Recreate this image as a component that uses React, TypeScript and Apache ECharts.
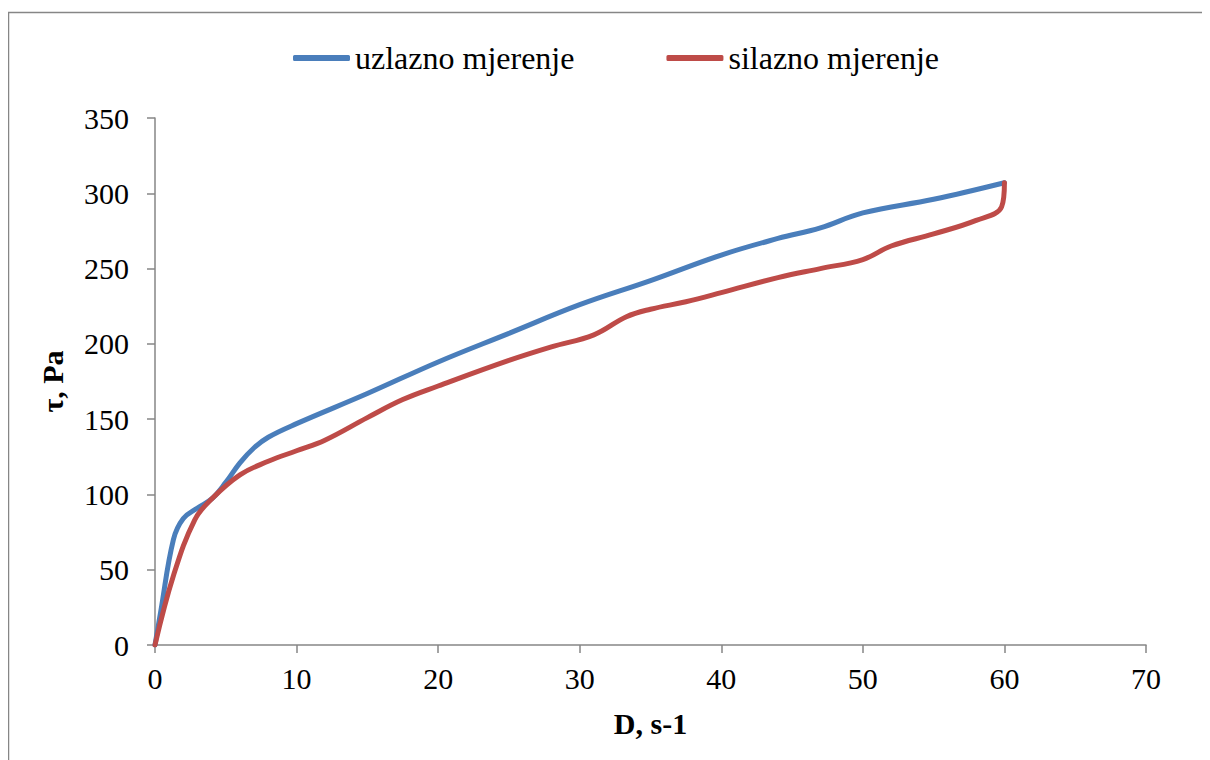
import React, { useEffect, useRef } from "react";
import * as echarts from "echarts";

const seriesNames = ["uzlazno mjerenje", "silazno mjerenje"];
const xTitle = "D, s-1";
const yTitle = "τ, Pa";

// uzlazno (ascending) measurement: [D, τ]
const upD = [0, 0.4, 1.3, 2, 3, 4, 5, 6, 7, 8, 10, 15, 20, 25, 30, 35, 40, 44, 47, 50, 55, 60];
const upTau = [0, 22, 70, 84, 91, 97, 108, 121, 131, 138, 147, 167, 188, 207, 226, 242, 259, 270, 277, 287, 296, 307];

// silazno (descending) measurement: [D, τ]
const downD = [60, 59.8, 58, 55, 52, 50, 47, 44, 40, 37.5, 35, 33.3, 31, 28, 25, 20, 17.5, 15, 12, 10, 8, 6, 4, 2.8, 1.3, 0];
const downTau = [307, 291, 282, 273, 265, 256, 250, 244, 234, 228, 223, 218, 206, 198, 189, 172, 163, 151, 136, 129, 122, 113, 97, 83, 46, 0];

const FONT = "Liberation Serif";
const AXIS_COLOR = "#868686";

export default function App() {
  const ref = useRef<HTMLDivElement>(null);

  useEffect(() => {
    document.documentElement.style.overflow = "hidden";
    document.body.style.overflow = "hidden";
    if (!ref.current) return;
    const chart = echarts.init(ref.current, undefined, { renderer: "svg" });
    const up = upD.map((d, i) => [d, upTau[i]]);
    const down = downD.map((d, i) => [d, downTau[i]]);
    chart.setOption({
      animation: false,
      backgroundColor: "#ffffff",
      textStyle: { fontFamily: FONT },
      graphic: [
        {
          type: "rect",
          shape: { x: 0.5, y: 4.5, width: 1220, height: 800 },
          style: { fill: "none", stroke: AXIS_COLOR, lineWidth: 1.5 },
          silent: true,
        },
      ],
      legend: {
        top: 29,
        left: 280,
        icon: "roundRect",
        itemWidth: 57,
        itemHeight: 6,
        itemGap: 92,
        textStyle: { fontFamily: FONT, fontSize: 32, color: "#000" },
        data: seriesNames,
      },
      grid: { left: 147, right: 64, top: 110, bottom: 115 },
      xAxis: {
        type: "value",
        min: 0,
        max: 70,
        interval: 10,
        name: xTitle,
        nameLocation: "middle",
        nameGap: 63,
        nameTextStyle: { fontFamily: FONT, fontSize: 30, fontWeight: "bold", color: "#000" },
        axisLine: { show: true, lineStyle: { color: AXIS_COLOR, width: 1.5 } },
        axisTick: { show: true, inside: false, length: 8, lineStyle: { color: AXIS_COLOR, width: 1.5 } },
        axisLabel: { fontFamily: FONT, fontSize: 30, color: "#000", margin: 18 },
        splitLine: { show: false },
      },
      yAxis: {
        type: "value",
        min: 0,
        max: 350,
        interval: 50,
        name: yTitle,
        nameLocation: "middle",
        nameGap: 88,
        nameRotate: 90,
        nameTextStyle: { fontFamily: FONT, fontSize: 30, fontWeight: "bold", color: "#000" },
        axisLine: { show: true, lineStyle: { color: AXIS_COLOR, width: 1.5 } },
        axisTick: { show: true, inside: false, length: 8, lineStyle: { color: AXIS_COLOR, width: 1.5 } },
        axisLabel: { fontFamily: FONT, fontSize: 30, color: "#000", margin: 26 },
        splitLine: { show: false },
      },
      series: [
        {
          name: seriesNames[0],
          type: "line",
          data: up,
          smooth: 0.4,
          showSymbol: false,
          symbol: "none",
          color: "#4a7ebb",
          lineStyle: { color: "#4a7ebb", width: 5, cap: "round", join: "round" },
        },
        {
          name: seriesNames[1],
          type: "line",
          data: down,
          smooth: 0.4,
          showSymbol: false,
          symbol: "none",
          color: "#be4b48",
          lineStyle: { color: "#be4b48", width: 5, cap: "round", join: "round" },
        },
      ],
    });
    return () => chart.dispose();
  }, []);

  return <div ref={ref} style={{ width: 1202, height: 752 }} />;
}
